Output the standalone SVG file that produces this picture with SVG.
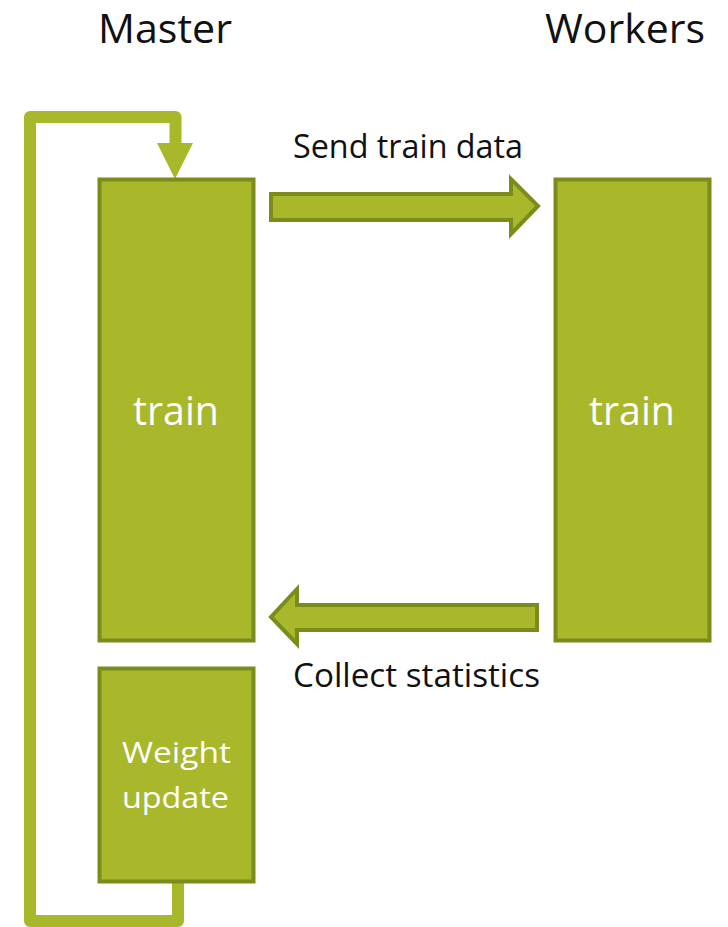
<svg xmlns="http://www.w3.org/2000/svg" width="728" height="927" viewBox="0 0 728 927">
<style>
.box{fill:#a8b82a;stroke:#7b8b1c;stroke-width:4}
.arr{fill:#a8b82a;stroke:#7b8b1c;stroke-width:4;stroke-linejoin:miter}
.loop{fill:none;stroke:#a8b82a;stroke-width:12;stroke-linejoin:round}
.lbl{font-family:"Open Sans","Liberation Sans",sans-serif;fill:#111}
.in{font-family:"Open Sans","Liberation Sans",sans-serif;fill:#ffffff;text-anchor:middle}
</style>
<rect width="728" height="927" fill="#ffffff"/>
<g id="title-master"><text class="lbl" x="98" y="43" font-size="40" textLength="134" lengthAdjust="spacingAndGlyphs">Master</text></g>
<g id="title-workers"><text class="lbl" x="545" y="43" font-size="40" textLength="160" lengthAdjust="spacingAndGlyphs">Workers</text></g>
<g id="connectors">
<path class="loop" d="M178,882 L178,921 L30,921 L30,117 L175.5,117 L175.5,146"/>
<polygon points="157,143 193,143 175,179" fill="#a8b82a"/>
<polygon class="arr" points="271,194 511,194 511,179 538,206 511,234 511,220 271,220"/>
<polygon class="arr" points="537,605 537,630 297,630 297,644 271,617 297,589 297,605"/>
</g>
<g id="master-train">
<rect class="box" x="99.5" y="179.5" width="154" height="461"/>
<text class="in" x="176" y="425" font-size="40" textLength="86" lengthAdjust="spacingAndGlyphs">train</text>
</g>
<g id="weight-update">
<rect class="box" x="99.5" y="668.5" width="154" height="213"/>
<text class="in" x="176.5" y="763" font-size="30" textLength="109" lengthAdjust="spacingAndGlyphs">Weight</text>
<text class="in" x="175.5" y="808" font-size="30" textLength="107" lengthAdjust="spacingAndGlyphs">update</text>
</g>
<g id="workers-train">
<rect class="box" x="555.5" y="179.5" width="154" height="461"/>
<text class="in" x="632" y="425" font-size="40" textLength="86" lengthAdjust="spacingAndGlyphs">train</text>
</g>
<g id="label-send"><text class="lbl" x="293" y="158" font-size="32" textLength="230" lengthAdjust="spacingAndGlyphs">Send train data</text></g>
<g id="label-collect"><text class="lbl" x="293" y="687" font-size="32" textLength="247" lengthAdjust="spacingAndGlyphs">Collect statistics</text></g>
</svg>
